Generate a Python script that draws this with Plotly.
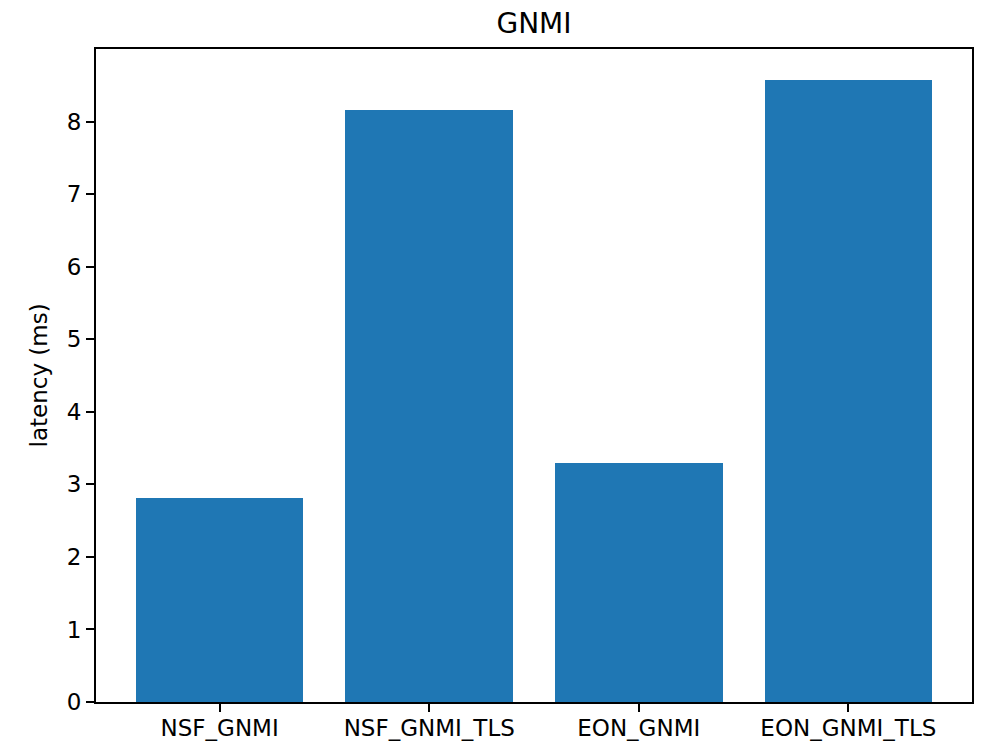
import plotly.graph_objects as go

# Mean latency per configuration
categories = ["NSF_GNMI", "NSF_GNMI_TLS", "EON_GNMI", "EON_GNMI_TLS"]
latency_ms = [2.81, 8.16, 3.29, 8.575]
y_ticks = [0, 1, 2, 3, 4, 5, 6, 7, 8]

W, H = 982, 746
L, R, T, B = 96, 10, 49, 44
FONT = "DejaVu Sans"

x_pos = list(range(len(categories)))

fig = go.Figure(
    go.Bar(
        x=x_pos,
        y=latency_ms,
        width=0.8,
        marker=dict(color="#1f77b4", line=dict(width=0)),
    )
)

ymax = max(latency_ms) * 1.05
fig.update_layout(
    width=W,
    height=H,
    margin=dict(l=L, r=R, t=T, b=B, autoexpand=False),
    paper_bgcolor="white",
    plot_bgcolor="white",
    font=dict(family=FONT, size=23, color="black"),
    showlegend=False,
    title=dict(
        text="GNMI",
        font=dict(family=FONT, size=28, color="black"),
        x=(L + (W - L - R) / 2) / W,
        xanchor="center",
        yref="container",
        y=(H - 23) / H,
        yanchor="middle",
    ),
    bargap=0,
)

fig.update_xaxes(
    range=[-0.59, len(categories) - 1 + 0.59],
    tickmode="array",
    tickvals=x_pos,
    ticktext=categories,
    showgrid=False,
    zeroline=False,
    showline=True,
    linecolor="black",
    linewidth=1.8,
    mirror=True,
    ticks="outside",
    ticklen=8,
    tickwidth=1.8,
    tickcolor="black",
    ticklabelstandoff=-4,
    automargin=False,
    tickfont=dict(family=FONT, size=23, color="black"),
)

fig.update_yaxes(
    range=[0, ymax],
    tickmode="array",
    tickvals=y_ticks,
    showgrid=False,
    zeroline=False,
    showline=True,
    linecolor="black",
    linewidth=1.8,
    mirror=True,
    ticks="outside",
    ticklen=8,
    tickwidth=1.8,
    tickcolor="black",
    automargin=False,
    tickfont=dict(family=FONT, size=23, color="black"),
)

fig.add_annotation(
    text="latency (ms)",
    xref="paper",
    yref="paper",
    x=(38 - L) / (W - L - R),
    y=0.5,
    xanchor="center",
    yanchor="middle",
    textangle=-90,
    showarrow=False,
    font=dict(family=FONT, size=23, color="black"),
)

fig.write_html("out.html")
